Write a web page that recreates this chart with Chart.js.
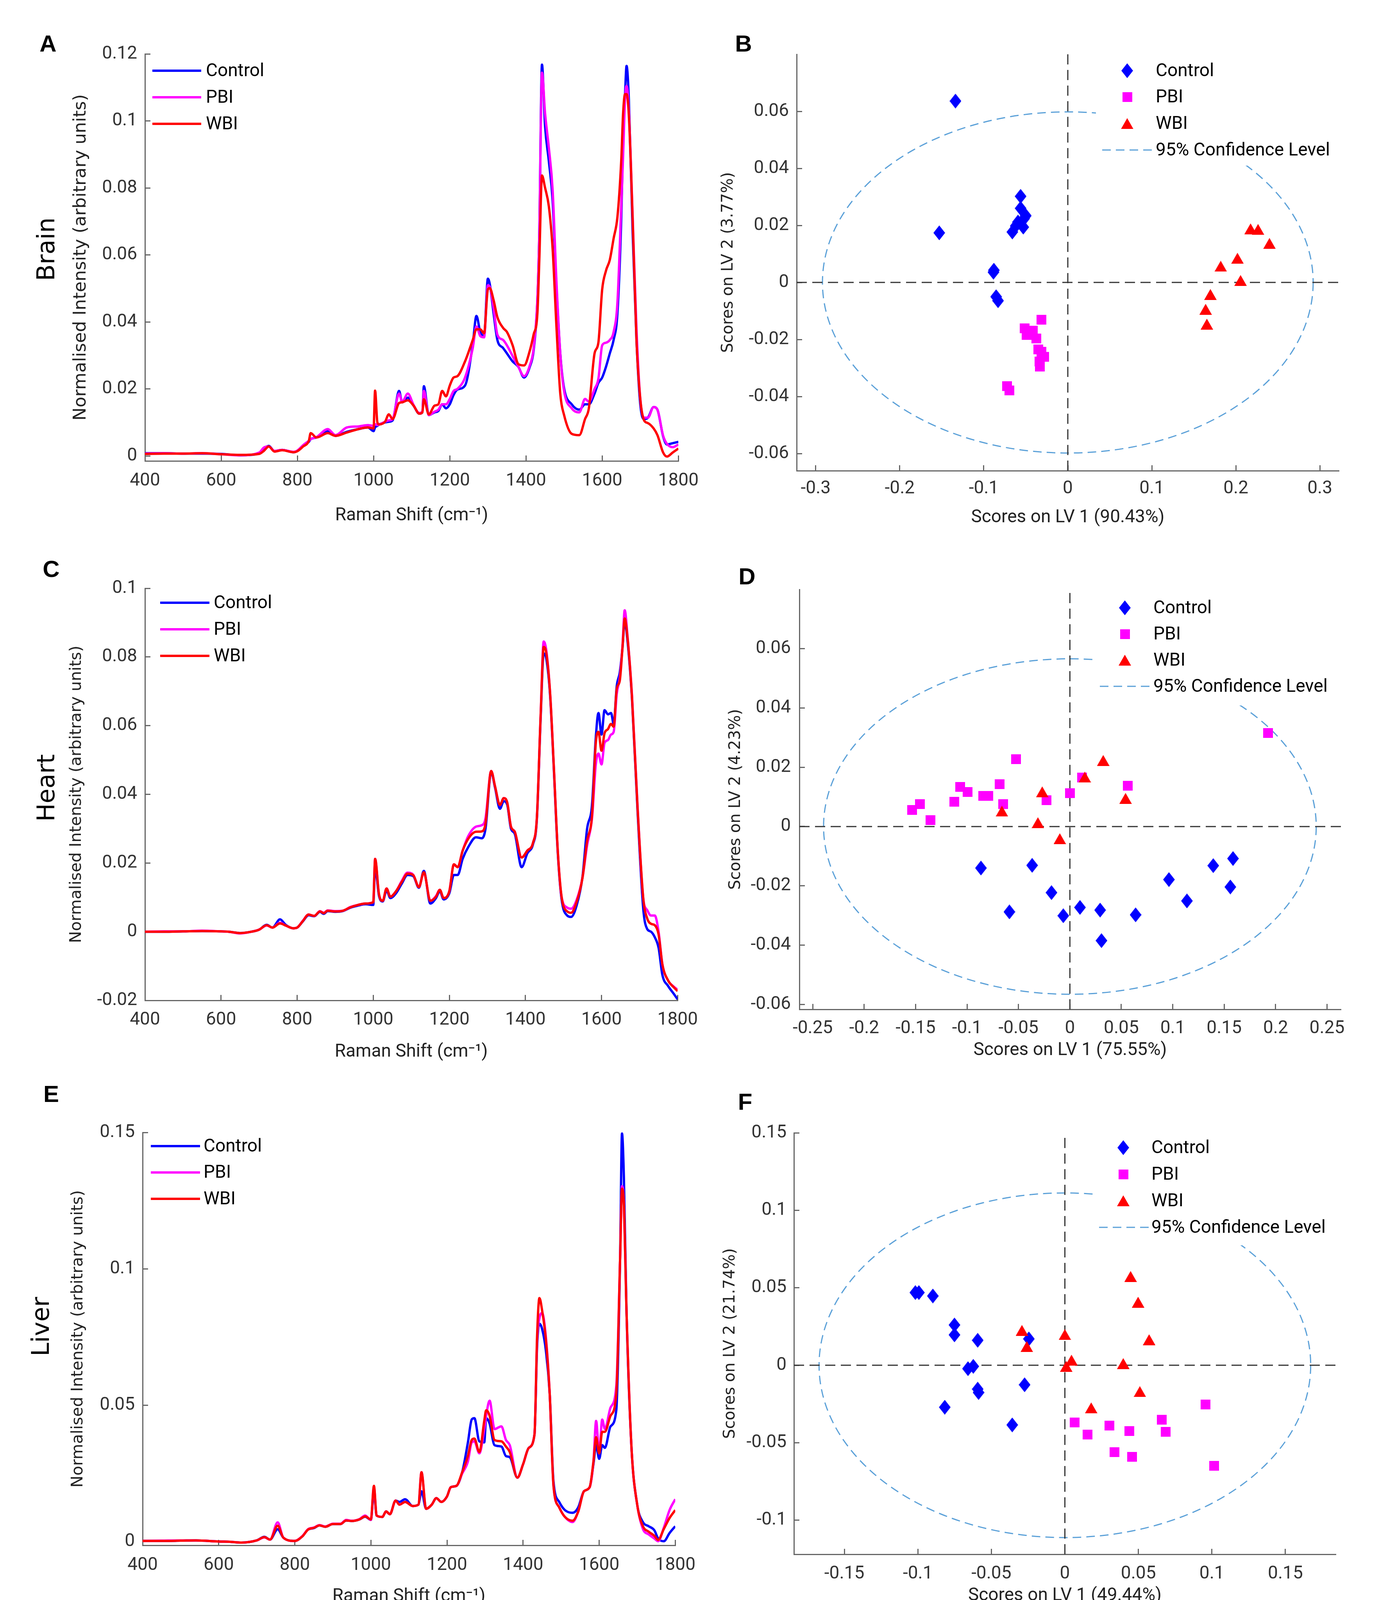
<!DOCTYPE html>
<html>
<head>
<meta charset="utf-8">
<title>Raman spectra and PLS-DA scores</title>
<script src="https://cdn.jsdelivr.net/npm/chart.js@4.4.1/dist/chart.umd.min.js"></script>
<style>
  html, body { margin: 0; padding: 0; background: #fff; }
  #page { position: relative; width: 3573px; height: 4337px; overflow: hidden; background: #fff; }
  #page canvas { position: absolute; }
  .letter { position: absolute; font: bold 60px 'Liberation Sans', Arial, sans-serif; color: #000; transform: translate(-50%, -50%); }
  .organ { position: absolute; font: 62px 'DejaVu Sans', sans-serif; color: #000; white-space: nowrap; transform: translate(-50%, -50%) rotate(-90deg); }
  .caption { position: absolute; font: 66px 'Liberation Serif', serif; color: #000; transform: translate(-50%, -50%); }
</style>
</head>
<body>
<div id="page">
  <div class="letter" style="left:123px;top:111px">A</div>
  <div class="letter" style="left:1903px;top:111px">B</div>
  <div class="letter" style="left:131px;top:1456px">C</div>
  <div class="letter" style="left:1912px;top:1475px">D</div>
  <div class="letter" style="left:131px;top:2800px">E</div>
  <div class="letter" style="left:1907px;top:2820px">F</div>
  <div class="organ" style="left:117px;top:638px">Brain</div>
  <div class="organ" style="left:117px;top:2017px">Heart</div>
  <div class="organ" style="left:103px;top:3396px">Liver</div>
  <div class="caption" style="left:1785px;top:4250px">(<b>b</b>)</div>
</div>
<script>
// ---------- mean Raman spectra ----------
const ramanRange = [400, 1800];
const ramanTicks = [400, 600, 800, 1000, 1200, 1400, 1600, 1800];

const shiftBrain = [400,450,500,550,600,650,700,712,725,740,
  760,790,800,815,830,835,850,880,900,930,
  960,985,1000,1004,1010,1015,1030,1040,1050,1067,
  1075,1090,1105,1120,1128,1132,1145,1160,1170,1180,
  1190,1200,1210,1220,1240,1260,1270,1280,1290,1300,
  1305,1315,1325,1340,1350,1365,1380,1395,1410,1420,
  1430,1435,1442,1450,1460,1470,1480,1490,1500,1520,
  1540,1555,1565,1580,1590,1600,1610,1620,1630,1640,
  1650,1655,1660,1664,1670,1680,1690,1700,1710,1720,
  1735,1745,1760,1770,1785,1800];
const brainControl = [.0008,.0008,.0007,.0007,.0006,.0002,.0008,.0022,.0030,.0014,
  .0018,.0011,.0015,.0030,.0042,.0050,.0055,.0075,.0060,.0072,
  .0080,.0085,.0074,.0085,.0090,.0094,.0100,.0102,.0106,.0194,
  .0160,.0174,.0150,.0126,.0130,.0208,.0122,.0130,.0134,.0154,
  .0142,.0154,.0182,.0198,.0210,.0330,.0418,.0370,.0358,.0529,
  .0513,.0425,.0346,.0322,.0306,.0282,.0266,.0234,.0266,.0314,
  .0465,.0665,.1168,.0985,.0880,.0761,.0505,.0306,.0202,.0154,
  .0138,.0154,.0154,.0186,.0218,.0234,.0266,.0306,.0346,.0425,
  .0705,.0945,.1080,.1164,.1064,.0665,.0346,.0154,.0110,.0114,
  .0146,.0138,.0058,.0034,.0038,.0042];
const brainPBI = [.0007,.0008,.0007,.0008,.0005,.0002,.0010,.0025,.0028,.0015,
  .0018,.0012,.0016,.0032,.0045,.0050,.0056,.0080,.0062,.0085,
  .0088,.0092,.0090,.0095,.0092,.0094,.0102,.0106,.0110,.0186,
  .0162,.0186,.0152,.0128,.0132,.0194,.0122,.0132,.0138,.0154,
  .0154,.0170,.0194,.0200,.0234,.0320,.0386,.0358,.0354,.0509,
  .0505,.0441,.0362,.0346,.0330,.0298,.0266,.0238,.0270,.0320,
  .0470,.0660,.1144,.1024,.0920,.0793,.0520,.0306,.0194,.0142,
  .0130,.0170,.0162,.0200,.0230,.0330,.0338,.0346,.0370,.0458,
  .0745,.0900,.1064,.1104,.1032,.0713,.0380,.0170,.0114,.0114,
  .0146,.0138,.0060,.0036,.0026,.0034];
const brainWBI = [.0006,.0007,.0007,.0008,.0005,.0003,.0006,.0015,.0028,.0013,
  .0017,.0011,.0014,.0028,.0045,.0068,.0055,.0068,.0060,.0070,
  .0080,.0085,.0082,.0195,.0100,.0094,.0102,.0124,.0110,.0158,
  .0160,.0166,.0150,.0126,.0130,.0169,.0124,.0150,.0154,.0194,
  .0178,.0210,.0234,.0238,.0282,.0345,.0378,.0378,.0366,.0497,
  .0501,.0465,.0414,.0382,.0370,.0330,.0274,.0270,.0314,.0362,
  .0426,.0585,.0837,.0801,.0745,.0617,.0385,.0186,.0122,.0066,
  .0062,.0110,.0142,.0306,.0338,.0497,.0553,.0585,.0649,.0713,
  .0881,.1024,.1080,.1080,.1016,.0705,.0346,.0170,.0106,.0098,
  .0082,.0062,.0010,-.0002,.0010,.0022];
const brainYRange = [-0.0015, 0.12];
const brainYTicks = [0, 0.02, 0.04, 0.06, 0.08, 0.1, 0.12];

const shiftHeart = [400,450,500,550,600,620,650,680,700,720,
  735,755,770,790,800,815,830,845,860,870,
  880,900,920,940,960,980,1000,1005,1015,1025,
  1035,1045,1060,1075,1090,1105,1120,1133,1150,1165,
  1175,1185,1200,1212,1222,1235,1250,1270,1285,1295,
  1310,1320,1333,1343,1352,1362,1372,1390,1405,1420,
  1430,1440,1448,1455,1465,1475,1485,1495,1510,1520,
  1535,1550,1562,1575,1585,1592,1600,1608,1617,1625,
  1632,1640,1648,1655,1661,1668,1680,1695,1710,1720,
  1730,1740,1750,1760,1775,1790,1800];
const heartControl = [.0000,.0000,.0001,.0002,.0001,.0000,-.0004,.0000,.0006,.0020,
  .0012,.0036,.0020,.0010,.0012,.0030,.0048,.0045,.0058,.0052,
  .0060,.0058,.0060,.0070,.0076,.0080,.0078,.0188,.0105,.0088,
  .0120,.0098,.0112,.0140,.0165,.0162,.0128,.0177,.0082,.0098,
  .0118,.0094,.0112,.0165,.0165,.0212,.0247,.0275,.0272,.0299,
  .0465,.0420,.0358,.0380,.0370,.0300,.0285,.0188,.0228,.0255,
  .0325,.0620,.0810,.0794,.0685,.0465,.0230,.0095,.0047,.0043,
  .0078,.0160,.0299,.0369,.0566,.0637,.0574,.0645,.0633,.0637,
  .0605,.0715,.0755,.0825,.0904,.0850,.0680,.0345,.0063,.0008,
  .0000,-.0016,-.0047,-.0126,-.0158,-.0181,-.0197];
const heartPBI = [.0000,.0001,.0001,.0003,.0001,.0000,-.0005,.0000,.0006,.0018,
  .0012,.0026,.0018,.0010,.0012,.0032,.0050,.0046,.0060,.0055,
  .0062,.0060,.0061,.0072,.0078,.0082,.0086,.0212,.0110,.0090,
  .0126,.0102,.0118,.0148,.0172,.0166,.0130,.0172,.0090,.0104,
  .0122,.0098,.0118,.0196,.0188,.0236,.0279,.0306,.0310,.0330,
  .0468,.0424,.0369,.0389,.0377,.0306,.0291,.0216,.0236,.0259,
  .0330,.0629,.0845,.0818,.0692,.0472,.0236,.0102,.0070,.0067,
  .0094,.0157,.0251,.0330,.0487,.0519,.0487,.0550,.0558,.0574,
  .0582,.0692,.0739,.0830,.0936,.0865,.0690,.0360,.0094,.0063,
  .0047,.0047,.0000,-.0095,-.0142,-.0160,-.0169];
const heartWBI = [.0000,.0000,.0001,.0002,.0001,.0000,-.0004,.0000,.0006,.0019,
  .0012,.0024,.0018,.0010,.0012,.0031,.0050,.0046,.0059,.0054,
  .0061,.0059,.0061,.0071,.0078,.0082,.0086,.0212,.0110,.0090,
  .0126,.0102,.0118,.0145,.0169,.0165,.0130,.0173,.0090,.0102,
  .0122,.0098,.0118,.0196,.0188,.0236,.0271,.0291,.0292,.0314,
  .0468,.0424,.0369,.0389,.0377,.0306,.0291,.0216,.0236,.0259,
  .0330,.0629,.0829,.0810,.0692,.0472,.0236,.0102,.0059,.0055,
  .0088,.0157,.0263,.0338,.0550,.0582,.0527,.0578,.0590,.0605,
  .0597,.0707,.0731,.0825,.0912,.0860,.0685,.0355,.0094,.0039,
  .0023,.0019,-.0008,-.0095,-.0142,-.0162,-.0173];
const heartYRange = [-0.02, 0.1];
const heartYTicks = [-0.02, 0, 0.02, 0.04, 0.06, 0.08, 0.1];

const shiftLiver = [400,450,500,540,600,630,660,700,720,735,
  755,770,800,820,835,850,865,880,900,920,
  935,950,970,985,1000,1008,1015,1030,1040,1050,
  1065,1075,1090,1110,1125,1133,1145,1160,1172,1185,
  1200,1210,1225,1240,1255,1265,1272,1285,1298,1303,
  1312,1325,1343,1355,1365,1385,1400,1415,1430,1437,
  1443,1450,1460,1470,1480,1495,1510,1530,1545,1560,
  1575,1585,1592,1600,1608,1615,1630,1645,1655,1660,
  1665,1672,1685,1700,1715,1730,1745,1755,1770,1785,
  1800];
const liverControl = [.0003,.0003,.0004,.0005,.0001,.0000,-.0003,.0005,.0018,.0008,
  .0046,.0015,.0003,.0020,.0045,.0050,.0060,.0055,.0065,.0065,
  .0078,.0076,.0082,.0092,.0080,.0185,.0096,.0091,.0111,.0101,
  .0151,.0146,.0156,.0131,.0136,.0185,.0121,.0136,.0160,.0146,
  .0166,.0200,.0205,.0255,.0364,.0448,.0453,.0368,.0364,.0453,
  .0433,.0354,.0349,.0314,.0310,.0235,.0284,.0344,.0393,.0720,
  .0799,.0780,.0700,.0542,.0220,.0146,.0116,.0106,.0126,.0185,
  .0200,.0285,.0354,.0304,.0354,.0344,.0423,.0482,.1036,.1496,
  .1333,.0838,.0344,.0136,.0072,.0057,.0042,.0012,.0002,.0032,
  .0057];
const liverPBI = [.0003,.0004,.0005,.0005,.0001,.0000,-.0003,.0005,.0016,.0008,
  .0071,.0015,.0003,.0021,.0046,.0052,.0061,.0056,.0066,.0066,
  .0080,.0077,.0083,.0096,.0080,.0200,.0096,.0091,.0111,.0101,
  .0151,.0136,.0146,.0131,.0136,.0255,.0121,.0136,.0160,.0146,
  .0166,.0200,.0205,.0250,.0294,.0364,.0368,.0324,.0413,.0462,
  .0517,.0413,.0423,.0373,.0354,.0235,.0284,.0344,.0393,.0740,
  .0819,.0838,.0749,.0542,.0205,.0126,.0091,.0072,.0111,.0185,
  .0200,.0294,.0443,.0324,.0448,.0413,.0492,.0571,.1036,.1303,
  .1240,.0838,.0344,.0136,.0047,.0027,.0012,.0002,.0052,.0116,
  .0156];
const liverWBI = [.0003,.0003,.0004,.0005,.0001,.0000,-.0003,.0005,.0017,.0008,
  .0059,.0015,.0003,.0020,.0045,.0051,.0060,.0055,.0065,.0065,
  .0078,.0076,.0082,.0093,.0082,.0205,.0096,.0091,.0111,.0101,
  .0151,.0136,.0146,.0131,.0136,.0255,.0121,.0136,.0160,.0146,
  .0166,.0200,.0205,.0255,.0314,.0373,.0378,.0329,.0443,.0482,
  .0462,.0373,.0368,.0349,.0329,.0235,.0284,.0344,.0393,.0760,
  .0893,.0848,.0740,.0542,.0205,.0126,.0091,.0077,.0111,.0185,
  .0200,.0294,.0383,.0324,.0403,.0403,.0462,.0542,.1036,.1294,
  .1234,.0838,.0344,.0136,.0057,.0037,.0022,.0007,.0047,.0087,
  .0116];
const liverYRange = [-0.0013, 0.15];
const liverYTicks = [0, 0.05, 0.1, 0.15];

// ---------- PLS-DA scores (LV1, LV2) ----------
const brainCtrlLV1 = [-0.1337,-0.153,-0.0562,-0.0562,-0.050,-0.0593,-0.066,-0.053,-0.062,-0.088,-0.0885,-0.0853,-0.083,-0.052];
const brainCtrlLV2 = [0.0636,0.0174,0.0302,0.026,0.0234,0.0212,0.0177,0.0194,0.0198,0.0043,0.0036,-0.005,-0.0064,0.0224];
const brainPbiLV1 = [-0.0312,-0.0515,-0.049,-0.0416,-0.0375,-0.0349,-0.0312,-0.0281,-0.0338,-0.0333,-0.0723,-0.0697];
const brainPbiLV2 = [-0.013,-0.0161,-0.0184,-0.0169,-0.0196,-0.0235,-0.0243,-0.0261,-0.0277,-0.0295,-0.0364,-0.0378];
const brainWbiLV1 = [0.2175,0.2264,0.240,0.2019,0.182,0.2056,0.1697,0.164,0.1655];
const brainWbiLV2 = [0.0188,0.0186,0.0137,0.0085,0.0057,0.0007,-0.0042,-0.0094,-0.0146];
const brainLV1Range = [-0.3227, 0.3227];
const brainLV2Range = [-0.066, 0.08];
const brainLV1Ticks = [-0.3, -0.2, -0.1, 0, 0.1, 0.2, 0.3];
const brainLV2Ticks = [-0.06, -0.04, -0.02, 0, 0.02, 0.04, 0.06];
const brainEllipse = [0, 0, 0.292, 0.0598]; // centre x, centre y, half-axis LV1, half-axis LV2

const heartCtrlLV1 = [-0.0865,-0.0367,-0.0588,-0.0179,-0.0064,0.0098,0.0294,0.0307,0.0639,0.0963,0.1138,0.1394,0.1586,0.156];
const heartCtrlLV2 = [-0.014,-0.0131,-0.0288,-0.0223,-0.0301,-0.0273,-0.0282,-0.0385,-0.0298,-0.0179,-0.0251,-0.0132,-0.0108,-0.0204];
const heartPbiLV1 = [-0.1535,-0.1458,-0.1356,-0.1125,-0.1066,-0.0993,-0.0844,-0.0793,-0.0682,-0.0648,-0.0524,-0.0226,0.0,0.0119,0.0563,0.1927];
const heartPbiLV2 = [0.0056,0.0076,0.0022,0.0084,0.0134,0.0117,0.0104,0.0104,0.0143,0.0076,0.0227,0.0089,0.0112,0.0165,0.0137,0.0316];
const heartWbiLV1 = [-0.0661,-0.0269,-0.0311,-0.0098,0.0145,0.0324,0.0541];
const heartWbiLV2 = [0.0052,0.0117,0.0013,-0.0041,0.0167,0.0223,0.0095];
const heartLV1Range = [-0.263, 0.2635];
const heartLV2Range = [-0.0617, 0.08];
const heartLV1Ticks = [-0.25, -0.2, -0.15, -0.1, -0.05, 0, 0.05, 0.1, 0.15, 0.2, 0.25];
const heartLV2Ticks = [-0.06, -0.04, -0.02, 0, 0.02, 0.04, 0.06];
const heartEllipse = [0, 0, 0.2395, 0.0566];

const liverCtrlLV1 = [-0.1017,-0.0993,-0.0898,-0.0751,-0.0751,-0.0593,-0.0245,-0.0659,-0.0623,-0.0593,-0.0587,-0.0274,-0.0817,-0.0358];
const liverCtrlLV2 = [0.0469,0.0469,0.0447,0.026,0.0196,0.0161,0.017,-0.0022,-0.0007,-0.0154,-0.0176,-0.0126,-0.0271,-0.0385];
const liverPbiLV1 = [0.0066,0.0155,0.0304,0.0337,0.0438,0.0456,0.0659,0.0686,0.0957,0.1014];
const liverPbiLV2 = [-0.0368,-0.0447,-0.039,-0.0561,-0.0425,-0.059,-0.0352,-0.0429,-0.0253,-0.065];
const liverWbiLV1 = [-0.0292,-0.0259,0.0,0.0045,0.0009,0.0447,0.0498,0.0573,0.0397,0.051,0.0179];
const liverWbiLV2 = [0.0225,0.0121,0.0198,0.0033,-0.0007,0.0573,0.0407,0.0165,0.0011,-0.017,-0.0275];
const liverLV1Range = [-0.1843, 0.1843];
const liverLV2Range = [-0.122, 0.15];
const liverLV1Ticks = [-0.15, -0.1, -0.05, 0, 0.05, 0.1, 0.15];
const liverLV2Ticks = [-0.1, -0.05, 0, 0.05, 0.1, 0.15];
const liverEllipse = [0, 0, 0.1672, 0.1112];

const groups = ['Control', 'PBI', 'WBI'];

// ---------- styling ----------
const groupColors = ['#0000ff', '#ff00ff', '#ff0000'];
const axisColor = '#666666';
const tickColor = '#333333';
const ellipseColor = '#5aa0d8';

function marker(shape, color, w, h) {
  const c = document.createElement('canvas');
  c.width = w; c.height = h;
  const g = c.getContext('2d');
  g.fillStyle = color;
  g.beginPath();
  if (shape === 'diamond') {
    g.moveTo(w / 2, 0); g.lineTo(w, h / 2); g.lineTo(w / 2, h); g.lineTo(0, h / 2);
  } else if (shape === 'square') {
    g.rect(0, 0, w, h);
  } else {
    g.moveTo(w / 2, 0); g.lineTo(w, h); g.lineTo(0, h);
  }
  g.closePath();
  g.fill();
  return c;
}
const markers = [marker('diamond', groupColors[0], 30, 38), marker('square', groupColors[1], 25, 25), marker('triangle', groupColors[2], 32, 28)];

// canvas placed so that the chart area lands on box.cl..cr / box.ct..cb in page pixels
function placeCanvas(box, ySize) {
  const ML = Math.round(box.yTitleGap + ySize / 2 + 10);
  const MB = Math.round(box.xTitleGap + 23 + 10);
  const MT = 40, MR = 70;
  const c = document.createElement('canvas');
  const w = box.cr - box.cl + ML + MR, h = box.cb - box.ct + MT + MB;
  c.width = w; c.height = h;
  c.style.left = (box.cl - ML) + 'px';
  c.style.top = (box.ct - MT) + 'px';
  c.style.width = w + 'px';
  c.style.height = h + 'px';
  document.getElementById('page').appendChild(c);
  return { canvas: c, ML, MB, MT, MR };
}

function axis(range, ticks, title, titleFont, geo, box, isX) {
  return {
    type: 'linear',
    min: range[0],
    max: range[1],
    afterBuildTicks: s => { s.ticks = ticks.map(v => ({ value: v })); },
    afterFit: s => { if (isX) s.height = geo.MB; else s.width = geo.ML; },
    border: { display: true, color: axisColor, width: 3 },
    grid: { drawOnChartArea: false, drawTicks: true, tickLength: -14, tickWidth: 3, tickColor: axisColor },
    ticks: {
      autoSkip: false, maxRotation: 0, minRotation: 0, color: tickColor,
      font: { family: 'Roboto', size: 46, lineHeight: 1 },
      padding: isX ? box.xTickGap - 9 : box.yTickGap + 14,
      callback: v => String(+v.toFixed(4))
    },
    title: {
      display: true, text: title, color: '#222222',
      font: Object.assign({ lineHeight: 1 }, titleFont),
      padding: isX ? { top: 0, bottom: 10 } : { top: 10, bottom: 0 }
    }
  };
}

function legendPlugin(cfg) {
  return {
    id: 'panelLegend',
    afterDatasetsDraw(chart) {
      const { ctx, chartArea: a } = chart;
      ctx.save();
      if (cfg.bg) {
        ctx.fillStyle = '#ffffff';
        ctx.fillRect(a.left + cfg.bg[0], a.top + 2, a.right - a.left - cfg.bg[0] - 2, cfg.bg[1]);
      }
      ctx.font = '46px Roboto';
      ctx.textBaseline = 'middle';
      ctx.textAlign = 'left';
      cfg.items.forEach((it, i) => {
        const x = a.left + cfg.left, y = a.top + cfg.top + i * cfg.step;
        if (it.line) {
          ctx.strokeStyle = it.color;
          ctx.lineWidth = it.width;
          ctx.setLineDash(it.dash || []);
          ctx.beginPath();
          ctx.moveTo(x + it.line[0], y);
          ctx.lineTo(x + it.line[1], y);
          ctx.stroke();
          ctx.setLineDash([]);
        }
        if (it.marker) ctx.drawImage(it.marker, x - it.marker.width / 2, y - it.marker.height / 2);
        ctx.fillStyle = '#000000';
        ctx.fillText(it.label, x + cfg.textX, y + 2);
      });
      ctx.restore();
    }
  };
}

function ellipsePlugin(ell) {
  return {
    id: 'confEllipse',
    beforeDatasetsDraw(chart) {
      const { ctx, scales: { x, y } } = chart;
      const cx = x.getPixelForValue(ell[0]), cy = y.getPixelForValue(ell[1]);
      const rx = x.getPixelForValue(ell[0] + ell[2]) - cx;
      const ry = cy - y.getPixelForValue(ell[1] + ell[3]);
      ctx.save();
      ctx.strokeStyle = ellipseColor;
      ctx.lineWidth = 3;
      ctx.setLineDash([22, 13]);
      ctx.beginPath();
      ctx.ellipse(cx, cy, rx, ry, 0, 0, Math.PI * 2);
      ctx.stroke();
      ctx.restore();
    }
  };
}

const baseOptions = geo => ({
  responsive: false,
  animation: false,
  devicePixelRatio: 1,
  layout: { padding: { left: 0, top: geo.MT, right: geo.MR, bottom: 0 } },
  plugins: { legend: { display: false }, tooltip: { enabled: false } }
});

function spectrumChart(box, shift, series, yRange, yTicks, ySize, leg) {
  const geo = placeCanvas(box, ySize);
  const options = baseOptions(geo);
  options.scales = {
    x: axis(ramanRange, ramanTicks, 'Raman Shift (cm\u207B\u00B9)', { family: 'Roboto', size: 46 }, geo, box, true),
    y: axis(yRange, yTicks, 'Normalised Intensity (arbitrary units)', { family: 'DejaVu Sans', size: ySize }, geo, box, false)
  };
  new Chart(geo.canvas, {
    type: 'line',
    data: {
      datasets: series.map((ys, i) => ({
        label: groups[i],
        data: shift.map((x, j) => ({ x, y: ys[j] })),
        borderColor: groupColors[i],
        borderWidth: 6,
        pointRadius: 0,
        cubicInterpolationMode: 'monotone',
        order: 3 - i
      }))
    },
    options,
    plugins: [legendPlugin({
      left: leg.left, top: leg.top, step: leg.step, textX: leg.textX,
      items: groups.map((g, i) => ({ label: g, line: [0, leg.len], color: groupColors[i], width: 6 }))
    })]
  });
}

function scoresChart(box, sets, xRange, yRange, xTicks, yTicks, xTitle, yTitle, ell, leg) {
  const geo = placeCanvas(box, 40);
  const options = baseOptions(geo);
  options.scales = {
    x: axis(xRange, xTicks, xTitle, { family: 'Roboto', size: 46 }, geo, box, true),
    y: axis(yRange, yTicks, yTitle, { family: 'DejaVu Sans', size: 40 }, geo, box, false)
  };
  const zeroStyle = { type: 'line', borderColor: '#333333', borderWidth: 3, borderDash: [26, 14], pointRadius: 0, order: 10 };
  const datasets = [
    Object.assign({ label: 'x0', data: [{ x: 0, y: yRange[0] }, { x: 0, y: yRange[1] }] }, zeroStyle),
    Object.assign({ label: 'y0', data: [{ x: xRange[0], y: 0 }, { x: xRange[1], y: 0 }] }, zeroStyle)
  ];
  sets.forEach((s, i) => {
    datasets.push({
      type: 'scatter',
      label: groups[i],
      data: s[0].map((x, j) => ({ x, y: s[1][j] })),
      pointStyle: markers[i],
      pointRadius: 15,
      order: 3 - i
    });
  });
  const items = groups.map((g, i) => ({ label: g, marker: markers[i] }));
  items.push({ label: '95% Confidence Level', line: leg.line, color: ellipseColor, width: 3, dash: [22, 13] });
  new Chart(geo.canvas, {
    type: 'scatter',
    data: { datasets },
    options,
    plugins: [ellipsePlugin(ell), legendPlugin({ left: leg.left, top: leg.top, step: leg.step, textX: leg.textX, bg: leg.bg, items })]
  });
}

// ---------- panels ----------
spectrumChart({ cl: 371, ct: 121, cr: 1760, cb: 1180, yTickGap: 20, xTickGap: 51, xTitleGap: 140, yTitleGap: 163 },
  shiftBrain, [brainControl, brainPBI, brainWBI], brainYRange, brainYTicks, 45,
  { left: 19, top: 43, step: 68, len: 125, textX: 137 });

spectrumChart({ cl: 371, ct: 1489, cr: 1757, cb: 2561, yTickGap: 20, xTickGap: 50, xTitleGap: 132, yTitleGap: 174 },
  shiftHeart, [heartControl, heartPBI, heartWBI], heartYRange, heartYTicks, 41,
  { left: 39, top: 37, step: 68, len: 126, textX: 137 });

spectrumChart({ cl: 365, ct: 2882, cr: 1752, cb: 3956, yTickGap: 20, xTickGap: 51, xTitleGap: 131, yTitleGap: 164 },
  shiftLiver, [liverControl, liverPBI, liverWBI], liverYRange, liverYTicks, 41,
  { left: 21, top: 35, step: 67.5, len: 126, textX: 135 });

scoresChart({ cl: 2039, ct: 122, cr: 3427, cb: 1205, yTickGap: 20, xTickGap: 46, xTitleGap: 120, yTitleGap: 174 },
  [[brainCtrlLV1, brainCtrlLV2], [brainPbiLV1, brainPbiLV2], [brainWbiLV1, brainWbiLV2]],
  brainLV1Range, brainLV2Range, brainLV1Ticks, brainLV2Ticks,
  'Scores on LV 1 (90.43%)', 'Scores on LV 2 (3.77%)', brainEllipse,
  { left: 846, top: 42, step: 67.7, textX: 73, line: [-64, 71], bg: [766, 283] });

scoresChart({ cl: 2046, ct: 1490, cr: 3432, cb: 2584, yTickGap: 22, xTickGap: 49, xTitleGap: 105, yTitleGap: 162 },
  [[heartCtrlLV1, heartCtrlLV2], [heartPbiLV1, heartPbiLV2], [heartWbiLV1, heartWbiLV2]],
  heartLV1Range, heartLV2Range, heartLV1Ticks, heartLV2Ticks,
  'Scores on LV 1 (75.55%)', 'Scores on LV 2 (4.23%)', heartEllipse,
  { left: 833, top: 47, step: 67, textX: 73, line: [-64, 65], bg: [753, 295] });

scoresChart({ cl: 2032, ct: 2884, cr: 3419, cb: 3979, yTickGap: 19, xTickGap: 50, xTitleGap: 106, yTitleGap: 162 },
  [[liverCtrlLV1, liverCtrlLV2], [liverPbiLV1, liverPbiLV2], [liverWbiLV1, liverWbiLV2]],
  liverLV1Range, liverLV2Range, liverLV1Ticks, liverLV2Ticks,
  'Scores on LV 1 (49.44%)', 'Scores on LV 2 (21.74%)', liverEllipse,
  { left: 843, top: 38, step: 68, textX: 72, line: [-62, 67], bg: [766, 286] });
</script>
</body>
</html>
